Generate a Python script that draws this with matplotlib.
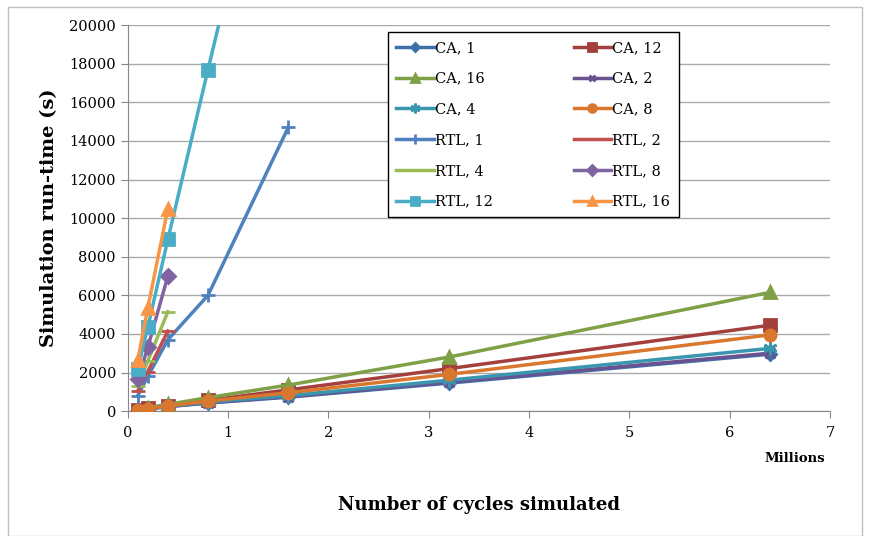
import matplotlib.pyplot as plt
from matplotlib.patches import Rectangle

plt.rcParams['font.family'] = ['DejaVu Serif']

# cycles simulated, in millions
ca_cycles = [0.1, 0.2, 0.4, 0.8, 1.6, 3.2, 6.4]
rtl_cycles_short = [0.1, 0.2, 0.4]
rtl1_cycles = [0.1, 0.2, 0.4, 0.8, 1.6]
rtl12_cycles = [0.1, 0.2, 0.4, 0.8, 1.6]

# run-times (s)
ca_1 = [60, 120, 230, 420, 720, 1450, 2950]
ca_12 = [70, 140, 280, 560, 1100, 2200, 4450]
ca_16 = [90, 180, 350, 700, 1350, 2800, 6150]
ca_2 = [60, 120, 240, 430, 750, 1500, 3000]
ca_4 = [65, 130, 260, 470, 800, 1600, 3250]
ca_8 = [70, 135, 270, 520, 950, 1900, 3950]

rtl_1 = [800, 1800, 3700, 6000, 14700]
rtl_2 = [1050, 2050, 4150]
rtl_4 = [1300, 2600, 5150]
rtl_8 = [1650, 3300, 7000]
rtl_12 = [2200, 4350, 8900, 17700, 35000]
rtl_16 = [2650, 5350, 10500]

fig = plt.figure(figsize=(8.69, 5.36), dpi=100)
ax = fig.add_axes([0.147, 0.233, 0.808, 0.720])

series = [
    ('CA, 1', ca_cycles, ca_1, '#3F6FAA', 'D', 6),
    ('CA, 12', ca_cycles, ca_12, '#A33F3C', 's', 8),
    ('CA, 16', ca_cycles, ca_16, '#7FA046', '^', 9),
    ('CA, 2', ca_cycles, ca_2, '#6A5290', 'x', 7),
    ('CA, 4', ca_cycles, ca_4, '#3A96AE', (6, 2, 0), 10),
    ('CA, 8', ca_cycles, ca_8, '#D9772F', 'o', 8),
    ('RTL, 1', rtl1_cycles, rtl_1, '#4F81BD', '+', 10),
    ('RTL, 2', rtl_cycles_short, rtl_2, '#C0504D', '_', 10),
    ('RTL, 4', rtl_cycles_short, rtl_4, '#9BBB59', '_', 10),
    ('RTL, 8', rtl_cycles_short, rtl_8, '#8064A2', 'D', 7),
    ('RTL, 12', rtl12_cycles, rtl_12, '#4BACC6', 's', 8),
    ('RTL, 16', rtl_cycles_short, rtl_16, '#F79646', '^', 9),
]

handles = {}
for name, xs, ys, col, mk, ms in series:
    h, = ax.plot(xs, ys, color=col, marker=mk, markersize=ms, linewidth=2.5,
                 markeredgewidth=2, label=name, zorder=3)
    handles[name] = h

ax.set_xlim(0, 7)
ax.set_ylim(0, 20000)
ax.set_xticks(range(0, 8))
ax.set_yticks(range(0, 20001, 2000))
ax.grid(axis='y', color='#AAAAAA', linewidth=1)
ax.set_axisbelow(True)
for s in ['top', 'right']:
    ax.spines[s].set_visible(False)
for s in ['left', 'bottom']:
    ax.spines[s].set_color('#888888')
ax.tick_params(axis='both', colors='#888888', labelcolor='black', labelsize=10.5,
               length=5, direction='out')
ax.tick_params(axis='x', pad=6)

ax.set_ylabel('Simulation run-time (s)', fontsize=14, fontweight='bold', labelpad=8)
ax.set_xlabel('Number of cycles simulated', fontsize=13, fontweight='bold', labelpad=40)
fig.text(0.915, 0.138, 'Millions', fontsize=9.5, fontweight='bold', ha='center')

order = ['CA, 1', 'CA, 16', 'CA, 4', 'RTL, 1', 'RTL, 4', 'RTL, 12',
         'CA, 12', 'CA, 2', 'CA, 8', 'RTL, 2', 'RTL, 8', 'RTL, 16']
leg = ax.legend([handles[k] for k in order], order, ncol=2,
                loc='upper left', bbox_to_anchor=(0.370, 0.484, 0.415, 0.498),
                mode='expand', fontsize=10.5, labelspacing=1.15, handlelength=2.6,
                handletextpad=0.05, borderpad=0.6, fancybox=False, framealpha=1,
                edgecolor='black', borderaxespad=0, markerscale=0.7)
leg.get_frame().set_linewidth(1.0)

fig.patches.append(Rectangle((0.009, 0.0), 0.983, 0.987, transform=fig.transFigure,
                             fill=False, edgecolor='#BFBFBF', linewidth=1))

fig.savefig('out.png', dpi=100)
